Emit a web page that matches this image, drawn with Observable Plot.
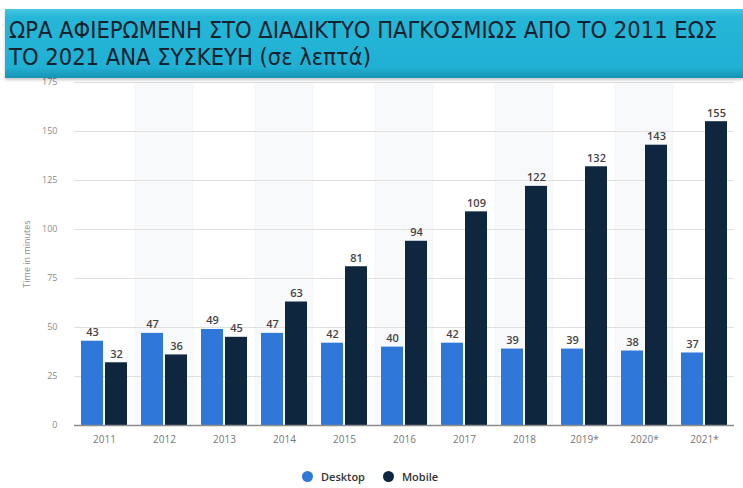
<!DOCTYPE html>
<html><head><meta charset="utf-8">
<script src="https://cdn.jsdelivr.net/npm/d3@7"></script>
<script src="https://cdn.jsdelivr.net/npm/@observablehq/plot@0.6"></script>
<style>
body{margin:0;background:#fff;width:743px;height:488px;overflow:hidden;position:relative;font-family:"Open Sans",sans-serif}
#banner{position:absolute;left:5px;top:9px;width:738px;height:69px;background:linear-gradient(#48c8e0,#26b6d7 12%,#1fb0d4 85%,#1893b2);z-index:2;box-shadow:0 2px 3px rgba(0,0,0,.22)}
#banner div{font-family:"Liberation Sans Narrow","DejaVu Sans Condensed",sans-serif;font-size:23.5px;line-height:27px;color:#15222e;padding:8px 0 0 4px;white-space:nowrap}
#chart{position:absolute;left:0;top:0}
#legend{position:absolute;top:469px;left:302px;display:flex;align-items:center;font-size:11px;line-height:15px;font-weight:600;color:#333;z-index:3}
#legend span.d{display:inline-block;width:11px;height:11px;border-radius:50%;margin-right:8px}
#legend span.t{margin-right:18px}
</style></head>
<body>
<div id="banner"><div>ΩΡΑ ΑΦΙΕΡΩΜΕΝΗ ΣΤΟ ΔΙΑΔΙΚΤΥΟ ΠΑΓΚΟΣΜΙΩΣ ΑΠΟ ΤΟ 2011 ΕΩΣ<br>ΤΟ 2021 ΑΝΑ ΣΥΣΚΕΥΗ (σε λεπτά)</div></div>
<div id="chart"></div>
<div id="legend"></div>
<script>
const categories = ["2011","2012","2013","2014","2015","2016","2017","2018","2019*","2020*","2021*"];
const devices = ["Desktop","Mobile"];
const desktop = [43,47,49,47,42,40,42,39,39,38,37];
const mobile = [32,36,45,63,81,94,109,122,132,143,155];
const yTicks = [0,25,50,75,100,125,150,175];
const colors = ["#2f77d8","#0f263f"];

const table = categories.flatMap((c,i)=>[
  {year:c,device:"Desktop",value:desktop[i]},
  {year:c,device:"Mobile",value:mobile[i]}
]);
const shaded = categories.filter((c,i)=>i%2===1);

const chart = Plot.plot({
  width:743,height:455,
  marginTop:82,marginBottom:30,marginLeft:72,marginRight:7,
  style:{fontFamily:"Open Sans, sans-serif",background:"transparent"},
  fx:{domain:categories,padding:0},
  x:{domain:devices,paddingInner:0.08,paddingOuter:0.248,axis:null},
  y:{domain:[0,175]},
  color:{domain:devices,range:colors},
  marks:[
    Plot.rect(shaded,{fx:d=>d,fill:"#f8f9fa"}),
    Plot.gridY(yTicks,{stroke:"#e0e0e0",strokeOpacity:1}),
    Plot.axisY(yTicks,{tickSize:0,tickPadding:17,fontSize:9,color:"#8a8a8a",
      label:"Time in minutes",labelAnchor:"center",labelOffset:51,labelArrow:"none"}),
    Plot.axisFx({anchor:"bottom",tickSize:0,tickPadding:10,fontSize:10,color:"#777",label:null}),
    Plot.barY(table,{fx:"year",x:"device",y:"value",fill:"device"}),
    Plot.text(table,{fx:"year",x:"device",y:"value",text:d=>String(d.value),
      lineAnchor:"bottom",dy:-5,fontSize:11,fontWeight:600,fill:"#444"}),
    Plot.ruleY([0],{stroke:"#8c8c8c",strokeWidth:1.5})
  ]
});
document.getElementById("chart").append(chart);

const lg = document.getElementById("legend");
devices.forEach((d,i)=>{
  const dot=document.createElement("span");dot.className="d";dot.style.background=colors[i];
  const t=document.createElement("span");t.className="t";t.textContent=d;
  lg.append(dot,t);
});
</script>
</body></html>
